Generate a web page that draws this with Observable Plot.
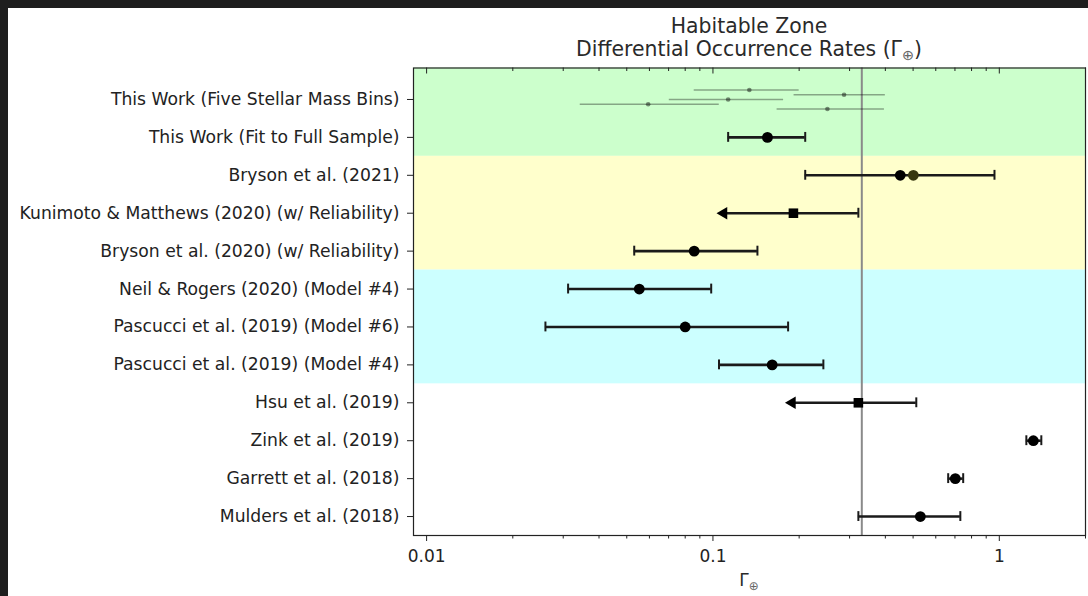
<!DOCTYPE html>
<html>
<head>
<meta charset="utf-8">
<script src="https://cdn.jsdelivr.net/npm/d3@7"></script>
<script src="https://cdn.jsdelivr.net/npm/@observablehq/plot@0.6"></script>
<style>
  html, body { margin: 0; padding: 0; background: #1e1e1e; width: 1088px; height: 596px; overflow: hidden; font-family: "DejaVu Sans", sans-serif; }
  #panel { position: absolute; left: 8px; top: 8px; width: 1080px; height: 588px; background: #fff; }
  #title { position: absolute; left: 405px; top: 6.5px; width: 672px; text-align: center; font-size: 20.4px; line-height: 23px; color: #2a2a2a; }
  #chart { position: absolute; left: 0; top: 52px; }
  #xlabel { position: absolute; left: 405px; top: 561px; width: 672px; text-align: center; font-size: 17px; line-height: 22px; color: #2a2a2a; }
  sub { font-size: 0.7em; vertical-align: -0.3em; line-height: 0; color: #666; }
</style>
</head>
<body>
<div id="panel">
  <div id="title">Habitable Zone<br>Differential Occurrence Rates (Γ<sub>⊕</sub>)</div>
  <div id="chart"></div>
  <div id="xlabel">Γ<sub>⊕</sub></div>
</div>
<script>
// ---- data ----
const categories = [
  "This Work (Five Stellar Mass Bins)",
  "This Work (Fit to Full Sample)",
  "Bryson et al. (2021)",
  "Kunimoto & Matthews (2020) (w/ Reliability)",
  "Bryson et al. (2020) (w/ Reliability)",
  "Neil & Rogers (2020) (Model #4)",
  "Pascucci et al. (2019) (Model #6)",
  "Pascucci et al. (2019) (Model #4)",
  "Hsu et al. (2019)",
  "Zink et al. (2019)",
  "Garrett et al. (2018)",
  "Mulders et al. (2018)"
];
const values  = [null, 0.155, 0.451, 0.191, 0.086, 0.0553, 0.080, 0.161, 0.322, 1.315, 0.702, 0.530];
const lowers  = [null, 0.113, 0.210, 0.109, 0.0531, 0.0312, 0.0260, 0.105, 0.189, 1.243, 0.663, 0.322];
const uppers  = [null, 0.210, 0.962, 0.322, 0.143, 0.0986, 0.183, 0.243, 0.513, 1.402, 0.748, 0.731];
const markers = [null, "circle", "circle", "square", "circle", "circle", "circle", "circle", "square", "circle", "circle", "circle"];
const upperLimitOnly = [false, false, false, true, false, false, false, false, true, false, false, false];
// second estimate shown for Bryson et al. (2021)
const secondRow = [2];
const secondValue = [0.501];
// This Work: five stellar mass bins
const binValues = [0.134, 0.287, 0.113, 0.0594, 0.251];
const binLower  = [0.086, 0.192, 0.0704, 0.0344, 0.1675];
const binUpper  = [0.200, 0.400, 0.1765, 0.1052, 0.397];
// reference line
const referenceRate = [0.331];
// shaded groups (row ranges) and colours
const groupFrom   = [0, 2, 5];
const groupTo     = [1, 4, 7];
const groupColors = ["#ccffcc", "#ffffcc", "#ccffff"];
// x axis ticks
const majorTicks = [0.01, 0.1, 1];
const majorLabels = ["0.01", "0.1", "1"];
const minorTicks = [0.02, 0.03, 0.04, 0.05, 0.06, 0.07, 0.08, 0.09, 0.2, 0.3, 0.4, 0.5, 0.6, 0.7, 0.8, 0.9, 2];

// ---- layout ----
const W = 1080, H = 508, mT = 7.5, mB = 33, mL = 405, mR = 3;
const frameH = H - mT - mB;
const yDomain = [-0.83, 11.5];
const xDomain = [0.009, 2.0];
const capH = 0.13;

const rows = categories.map((name, i) => ({
  name, i, value: values[i], lo: lowers[i], hi: uppers[i], marker: markers[i], limit: upperLimitOnly[i]
}));
const main = rows.filter(d => d.value != null);
const caps = [];
main.forEach(d => {
  caps.push({x: d.hi, i: d.i});
  if (!d.limit) caps.push({x: d.lo, i: d.i});
});
const bins = binValues.map((v, k) => ({v, lo: binLower[k], hi: binUpper[k], y: (k - 2) * 0.125}));
const seconds = secondRow.map((r, k) => ({i: r, v: secondValue[k]}));
const groups = groupFrom.map((f, k) => ({
  y1: f === 0 ? yDomain[0] : f - 0.5,
  y2: groupTo[k] + 0.5,
  fill: groupColors[k]
}));

const chart = Plot.plot({
  width: W, height: H,
  marginTop: mT, marginBottom: mB, marginLeft: mL, marginRight: mR,
  style: {fontFamily: "DejaVu Sans, sans-serif", fontSize: "17px", color: "#222", background: "transparent"},
  x: {type: "log", domain: xDomain},
  y: {type: "linear", domain: yDomain, reverse: true},
  marks: [
    Plot.rect(groups, {y1: "y1", y2: "y2", fill: "fill"}),
    Plot.ruleX(referenceRate, {x: d => d, stroke: "#8a8a8a", strokeWidth: 2}),
    // five bins
    Plot.ruleY(bins, {y: "y", x1: "lo", x2: "hi", stroke: "#000", strokeOpacity: 0.35, strokeWidth: 1.4}),
    Plot.dot(bins, {x: "v", y: "y", r: 2.3, fill: "#000", fillOpacity: 0.45}),
    // error bars
    Plot.ruleY(main, {y: "i", x1: "lo", x2: "hi", stroke: "#1a1a1a", strokeWidth: 2.6}),
    Plot.ruleX(caps, {x: "x", y1: d => d.i - capH, y2: d => d.i + capH, stroke: "#1a1a1a", strokeWidth: 2}),
    Plot.dot(main.filter(d => d.limit), {x: "lo", y: "i", symbol: "triangle", rotate: -90, r: 4.6, fill: "#000", stroke: "none"}),
    Plot.dot(main, {x: "value", y: "i", symbol: "marker", r: 5.4, fill: "#000", stroke: "none"}),
    Plot.dot(seconds, {x: "v", y: "i", r: 5.4, fill: "#36360f", stroke: "none"}),
    // top inward ticks
    Plot.tickX(majorTicks, {x: d => d, insetBottom: frameH - 6, stroke: "#222"}),
    Plot.tickX(minorTicks, {x: d => d, insetBottom: frameH - 3.5, stroke: "#222"}),
    // axes
    Plot.axisX({anchor: "bottom", ticks: majorTicks, tickFormat: d => majorLabels[majorTicks.indexOf(d)], tickSize: 6, tickPadding: 8, fontSize: 17, label: null}),
    Plot.axisX({anchor: "bottom", ticks: minorTicks, tickFormat: () => null, tickSize: 3.5, label: null}),
    Plot.axisY({anchor: "left", ticks: d3.range(categories.length), tickFormat: i => categories[i], tickSize: 6, tickPadding: 8, fontSize: 17.2, label: null}),
    Plot.frame({stroke: "#222", strokeWidth: 1.2})
  ]
});
document.getElementById("chart").appendChild(chart);
</script>
</body>
</html>
